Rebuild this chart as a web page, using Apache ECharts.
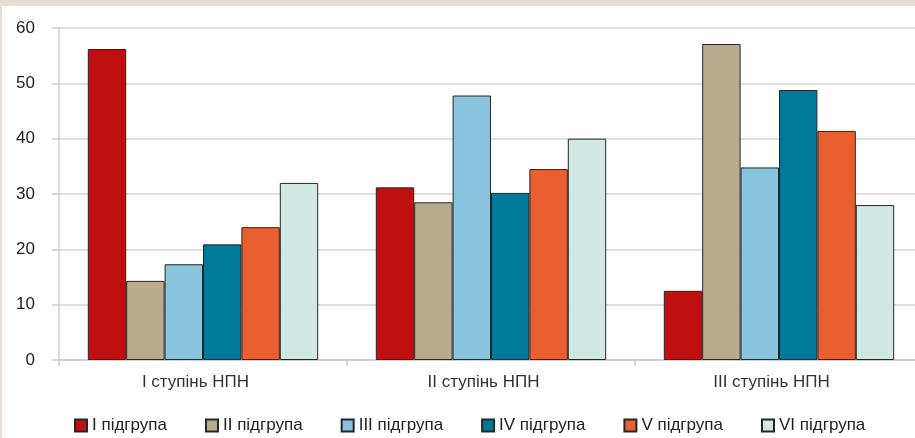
<!DOCTYPE html>
<html>
<head>
<meta charset="utf-8">
<script src="https://cdn.jsdelivr.net/npm/echarts@6/dist/echarts.min.js"></script>
<style>
  html, body { margin: 0; padding: 0; background: #E7DDD1; width: 915px; height: 438px; overflow: hidden; }
  /* plot continues slightly past the right edge of the window */
  #chart { position: absolute; left: 2px; top: 6px; width: 930px; height: 432px; background: #ffffff; }
</style>
</head>
<body>
<div id="chart"></div>
<script>
// Categories (stages) and values per subgroup, %
const categories = ['I ступінь НПН', 'II ступінь НПН', 'III ступінь НПН'];
const seriesNames = ['I підгрупа', 'II підгрупа', 'III підгрупа', 'IV підгрупа', 'V підгрупа', 'VI підгрупа'];
const group1 = [56.2, 31.2, 12.5];
const group2 = [14.3, 28.5, 57.1];
const group3 = [17.3, 47.8, 34.8];
const group4 = [20.9, 30.2, 48.8];
const group5 = [24.0, 34.5, 41.4];
const group6 = [32.0, 40.0, 28.0];
const yTicks = [0, 10, 20, 30, 40, 50, 60];

const colors = ['#C00F0F', '#BBAB8E', '#89C4DF', '#007898', '#E95F2F', '#D0E7E3'];
const values = [group1, group2, group3, group4, group5, group6];
const font = '"Liberation Sans", Arial, sans-serif';

const chart = echarts.init(document.getElementById('chart'), null, { renderer: 'canvas' });

const series = seriesNames.map((name, i) => ({
  name: name,
  type: 'bar',
  data: values[i],
  barGap: '0%',
  barCategoryGap: '20%',
  itemStyle: { color: colors[i], borderColor: '#262626', borderWidth: 1 }
}));

chart.setOption({
  animation: false,
  textStyle: { fontFamily: font },
  grid: { left: 57, top: 22, width: 864, height: 332, containLabel: false },
  legend: {
    left: 72,
    top: 411,
    padding: 0,
    itemWidth: 12,
    itemHeight: 12,
    itemGap: 38,
    icon: 'rect',
    textStyle: { fontSize: 17, color: '#222', lineHeight: 17, fontFamily: font },
    data: seriesNames
  },
  xAxis: {
    type: 'category',
    data: categories,
    axisLine: { show: true, lineStyle: { color: '#CDCDCD', width: 1.5 } },
    axisTick: { show: true, length: 6, lineStyle: { color: '#CDCDCD', width: 1.5 } },
    axisLabel: { fontSize: 17, color: '#333', margin: 14, padding: [0, 15, 0, 0] }
  },
  yAxis: {
    type: 'value',
    min: yTicks[0],
    max: yTicks[yTicks.length - 1],
    interval: 10,
    axisLine: { show: true, lineStyle: { color: '#CDCDCD', width: 1.5 } },
    axisTick: { show: true, length: 7, lineStyle: { color: '#CDCDCD', width: 1.5 } },
    axisLabel: { fontSize: 17, color: '#222', margin: 24 },
    splitLine: { show: true, lineStyle: { color: '#D4D4D4', width: 1.5 } }
  },
  series: series
});
</script>
</body>
</html>
